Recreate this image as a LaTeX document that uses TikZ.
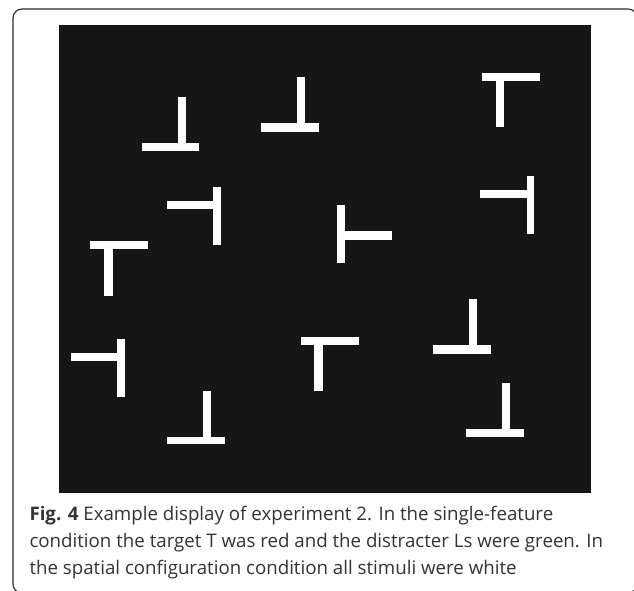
\documentclass[tikz,border=0pt]{standalone}
\usepackage{fontspec}
\setmainfont{Open Sans}
\definecolor{panelbg}{HTML}{161616}
\definecolor{captext}{HTML}{333333}
\definecolor{framecol}{HTML}{2A2A2A}
\begin{document}
\begin{tikzpicture}[x=1pt,y=-1pt,
  bar/.style={fill=white},
  captionline/.style={anchor=base west,inner sep=0pt,text=captext,font=\fontsize{18.7}{27}\selectfont}]
\useasboundingbox (0,0) rectangle (634,590);
\clip (0,0) rectangle (634,590);
% figure frame
\draw[framecol,line width=1.1pt,rounded corners=9pt] (13,9) rectangle (637,593);
% stimulus display
\fill[panelbg] (58.7,25) rectangle (590.7,492.7);
% upright shapes with the stem below the bar
\fill[bar] (482.3,72.7) rectangle (540,81);   \fill[bar] (495.7,81) rectangle (504,126.7);
\fill[bar] (90.3,241.3) rectangle (148.3,249.3); \fill[bar] (104.3,249.3) rectangle (112.7,295.7);
\fill[bar] (301,337.3) rectangle (358.7,345.3); \fill[bar] (314.3,345.3) rectangle (322.7,391.3);
% inverted shapes with the stem above the bar
\fill[bar] (141.7,143.3) rectangle (199.3,150.7); \fill[bar] (177.7,96.7) rectangle (185.7,143.3);
\fill[bar] (261,123) rectangle (319,131.7);    \fill[bar] (296.7,77) rectangle (305,123);
\fill[bar] (166.7,436.7) rectangle (224.7,444.3); \fill[bar] (203,390.7) rectangle (211,436.7);
\fill[bar] (433,345.3) rectangle (491,353.7);  \fill[bar] (469.3,299.3) rectangle (477.3,345.3);
\fill[bar] (465.7,429) rectangle (524,436.7);  \fill[bar] (502.3,383.3) rectangle (510,429);
% shapes rotated to face left
\fill[bar] (167,200.7) rectangle (213.3,208.7); \fill[bar] (213.3,187) rectangle (221,245);
\fill[bar] (71,353) rectangle (117.3,361);     \fill[bar] (117.3,339.3) rectangle (125,397.3);
\fill[bar] (480.3,190) rectangle (526.7,197.7); \fill[bar] (526.7,176) rectangle (534.3,233.7);
% shape rotated to face right
\fill[bar] (337,205.3) rectangle (345,263);    \fill[bar] (345,231) rectangle (392,240);
% caption
\node[captionline] (cap1) at (29.3,520) {\textbf{Fig. 4} Example display of experiment 2. In the single-feature};
\node[captionline] (cap2) at (29.3,547) {condition the target T was red and the distracter Ls were green. In};
\node[captionline] (cap3) at (29.3,574) {the spatial configuration condition all stimuli were white};
\end{tikzpicture}
\end{document}
